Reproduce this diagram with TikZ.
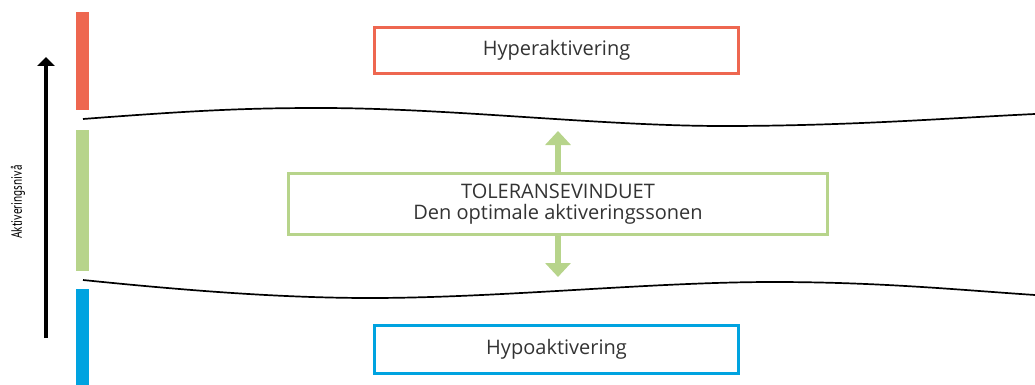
\documentclass[tikz,border=0pt]{standalone}
\usepackage{fontspec}
\setmainfont{Open Sans}
\newfontfamily\labelfont{PT Sans}
\usetikzlibrary{arrows.meta}
\definecolor{hyperc}{HTML}{EE6750}
\definecolor{tolc}{HTML}{B7D48B}
\definecolor{hypoc}{HTML}{00A3E0}
\definecolor{txtc}{HTML}{333333}
\tikzset{
  zonebox/.style={draw, line width=3pt, inner sep=0pt, text=txtc, font=\fontsize{20}{21}\selectfont, align=center},
  garrow/.style={draw=tolc, line width=5.5pt, -{Triangle[width=25pt,length=14pt]}},
  boundary/.style={draw=black, line width=1.7pt},
}
\begin{document}
\begin{tikzpicture}[x=1pt,y=-1pt]
\useasboundingbox (0,0) rectangle (1035,385);
% level bars
\fill[hyperc] (76,12) rectangle (89,110);
\fill[tolc] (76,130) rectangle (89,271);
\fill[hypoc] (76,289) rectangle (89,385);
% activation axis
\coordinate (axbot) at (46,338);
\coordinate (axtop) at (46,57);
\draw[line width=3.5pt, -{Triangle[width=17pt,length=9pt]}] (axbot) -- (axtop);
\node[rotate=90, font=\labelfont\fontsize{15}{16}\selectfont, text=black] (axlabel) at (18,202) {\scalebox{0.75}[1]{Aktiveringsnivå}};
% boundaries of the window
\draw[boundary] (83,119) .. controls (200,110) and (250,108) .. (320,108)
  .. controls (450,108) and (600,126) .. (723,126)
  .. controls (850,126) and (950,118) .. (1035,114);
\draw[boundary] (83,280) .. controls (200,292) and (290,298) .. (370,298)
  .. controls (500,298) and (650,282) .. (773,282)
  .. controls (880,282) and (960,290) .. (1035,295);
% boxes
\node[zonebox, draw=hyperc, minimum width=364pt, minimum height=46pt] (hyper) at (556.5,50.5) {Hyperaktivering};
\node[zonebox, draw=tolc, minimum width=539pt, minimum height=61pt] (tol) at (558,204) {TOLERANSEVINDUET\\Den optimale aktiveringssonen};
\node[zonebox, draw=hypoc, minimum width=364pt, minimum height=48pt] (hypo) at (556.5,349.5) {Hypoaktivering};
% arrows
\coordinate (uptip) at (558,131);
\coordinate (downtip) at (558,277);
\draw[garrow] (tol.north) -- (uptip);
\draw[garrow] (tol.south) -- (downtip);
\end{tikzpicture}
\end{document}
